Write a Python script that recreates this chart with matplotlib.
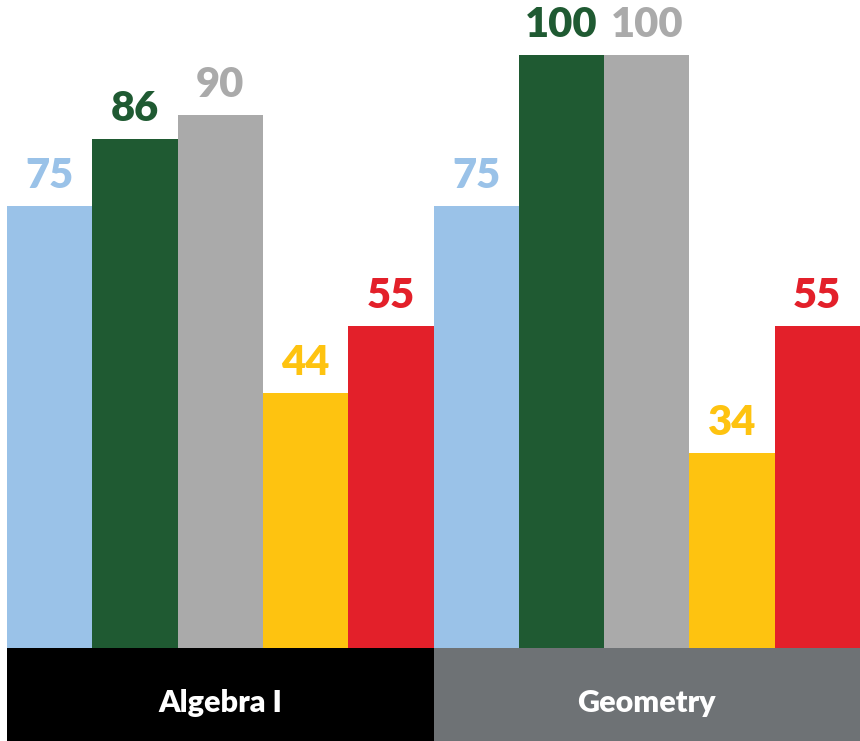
import matplotlib.pyplot as plt

subjects = ['Algebra I', 'Geometry']
algebra = [75, 86, 90, 44, 55]
geometry = [75, 100, 100, 34, 55]
colors = ['#9ac2e8', '#1f5a32', '#aaaaaa', '#fec310', '#e3202a']
band_colors = ['#000000', '#6e7275']

values = algebra + geometry
bar_colors = colors + colors
xs = list(range(len(values)))

fig = plt.figure(figsize=(8.6, 7.41), dpi=100)
W, H = 860, 741
base = 648

# bars (value axis doesn't start exactly at zero in the original)
ax = fig.add_axes([7 / W, (H - base) / H, 1 - 7 / W, base / H])
ax.bar(xs, values, width=1.0, color=bar_colors, linewidth=0)
ax.set_xlim(-0.5, 9.5)
ax.set_ylim(1.66, 109.12)
ax.axis('off')

for x, v, c in zip(xs, values, bar_colors):
    ax.annotate(str(v), (x, v), xytext=(0, 13), textcoords='offset points',
                ha='center', va='baseline', color=c, fontsize=30,
                fontweight='heavy', family=['Lato', 'DejaVu Sans'])

# subject band along the bottom
band = fig.add_axes([7 / W, 0, 1 - 7 / W, (H - base) / H])
band.bar([0, 1], [1, 1], width=1.0, color=band_colors, linewidth=0)
band.set_xlim(-0.5, 1.5)
band.set_ylim(0, 1)
band.axis('off')
for i, s in enumerate(subjects):
    band.text(i, 0.41, s, ha='center', va='center', color='white',
              fontsize=22, fontweight='heavy', family=['Lato', 'DejaVu Sans'])

fig.savefig('out.png', dpi=100)
